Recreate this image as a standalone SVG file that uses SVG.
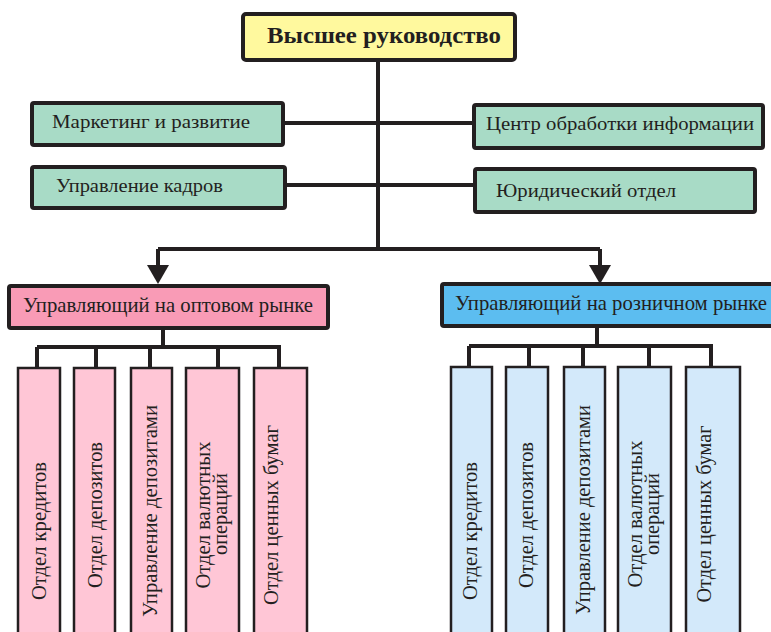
<svg xmlns="http://www.w3.org/2000/svg" width="771" height="632" viewBox="0 0 771 632">
<defs>
<style>
.box{stroke:#231F20;stroke-width:4}
.child{stroke:#231F20;stroke-width:2.5}
.top{fill:#FFF99E}
.green{fill:#A8DBC6}
.pinkm{fill:#F99BB6}
.bluem{fill:#5CBDF0}
.pinkc{fill:#FFC6D6}
.bluec{fill:#D3E9FA}
.ln{stroke:#231F20;stroke-width:4;fill:none}
text{fill:#231F20;font-family:Liberation Serif, DejaVu Serif, serif}
.h{font-size:19.5px}
.m{font-size:21px}
.v{font-size:21px;text-anchor:middle}
</style>
</defs>
<rect width="771" height="632" fill="#FFFFFF"/>
<g id="connectors">
<path class="ln" d="M378 60 V249"/>
<path class="ln" d="M283 123 H475"/>
<path class="ln" d="M285 185 H475"/>
<path class="ln" d="M158 249 H600"/>
<path class="ln" d="M158 249 V268"/>
<path class="ln" d="M600 249 V268"/>
<polygon points="147,265 169,265 158,284" fill="#231F20"/>
<polygon points="589,265 611,265 600,284" fill="#231F20"/>
<path class="ln" d="M163 328 V347 M37 347 H281 M37 347 V369 M96 347 V369 M150 347 V369 M218 347 V369 M279 347 V369"/>
<path class="ln" d="M597 326 V346 M469 346 H713 M469 346 V368 M529 346 V368 M583 346 V368 M649 346 V368 M711 346 V368"/>
</g>
<g id="top">
<rect class="box top" x="243" y="14" width="272" height="46" rx="3"/>
<text x="267" y="43" font-size="22.5" font-weight="bold" textLength="234" lengthAdjust="spacingAndGlyphs">Высшее руководство</text>
</g>
<g id="marketing">
<rect class="box green" x="32" y="103" width="251" height="42" rx="2"/>
<text class="h" x="52" y="128" textLength="198" lengthAdjust="spacingAndGlyphs">Маркетинг и развитие</text>
</g>
<g id="hr">
<rect class="box green" x="32" y="167" width="253" height="41" rx="2"/>
<text class="h" x="56" y="192" textLength="167" lengthAdjust="spacingAndGlyphs">Управление кадров</text>
</g>
<g id="datacenter">
<rect class="box green" x="474" y="105" width="289" height="43" rx="2"/>
<text class="h" x="486" y="130" textLength="268" lengthAdjust="spacingAndGlyphs">Центр обработки информации</text>
</g>
<g id="legal">
<rect class="box green" x="475" y="169" width="280" height="43" rx="2"/>
<text class="h" x="496" y="197" textLength="180" lengthAdjust="spacingAndGlyphs">Юридический отдел</text>
</g>
<g id="wholesale">
<rect class="box pinkm" x="9" y="286" width="319" height="42" rx="2"/>
<text class="m" x="23" y="312" textLength="290" lengthAdjust="spacingAndGlyphs">Управляющий на оптовом рынке</text>
</g>
<g id="retail">
<rect class="box bluem" x="442" y="284" width="335" height="42" rx="2"/>
<text class="m" x="455" y="310" textLength="312" lengthAdjust="spacingAndGlyphs">Управляющий на розничном рынке</text>
</g>
<g id="w-credit">
<rect class="child pinkc" x="18" y="368" width="42" height="280"/>
<text class="v" transform="translate(46,531) rotate(-90)" textLength="138" lengthAdjust="spacingAndGlyphs">Отдел кредитов</text>
</g>
<g id="w-deposit">
<rect class="child pinkc" x="74" y="368" width="41" height="280"/>
<text class="v" transform="translate(102,515) rotate(-90)" textLength="146" lengthAdjust="spacingAndGlyphs">Отдел депозитов</text>
</g>
<g id="w-depmgmt">
<rect class="child pinkc" x="131" y="368" width="41" height="280"/>
<text class="v" transform="translate(157,511) rotate(-90)" textLength="212" lengthAdjust="spacingAndGlyphs">Управление депозитами</text>
</g>
<g id="w-currency">
<rect class="child pinkc" x="186" y="368" width="53" height="280"/>
<text class="v" transform="translate(210,515) rotate(-90)" textLength="147" lengthAdjust="spacingAndGlyphs">Отдел валютных</text>
<text class="v" transform="translate(227,514) rotate(-90)" textLength="82" lengthAdjust="spacingAndGlyphs">операций</text>
</g>
<g id="w-securities">
<rect class="child pinkc" x="254" y="368" width="53" height="280"/>
<text class="v" transform="translate(278,515) rotate(-90)" textLength="180" lengthAdjust="spacingAndGlyphs">Отдел ценных бумаг</text>
</g>
<g id="r-credit">
<rect class="child bluec" x="451" y="367" width="41" height="280"/>
<text class="v" transform="translate(477,531) rotate(-90)" textLength="138" lengthAdjust="spacingAndGlyphs">Отдел кредитов</text>
</g>
<g id="r-deposit">
<rect class="child bluec" x="506" y="367" width="42" height="280"/>
<text class="v" transform="translate(533,515) rotate(-90)" textLength="146" lengthAdjust="spacingAndGlyphs">Отдел депозитов</text>
</g>
<g id="r-depmgmt">
<rect class="child bluec" x="564" y="367" width="41" height="280"/>
<text class="v" transform="translate(590,510) rotate(-90)" textLength="210" lengthAdjust="spacingAndGlyphs">Управление депозитами</text>
</g>
<g id="r-currency">
<rect class="child bluec" x="618" y="367" width="53" height="280"/>
<text class="v" transform="translate(642,514) rotate(-90)" textLength="147" lengthAdjust="spacingAndGlyphs">Отдел валютных</text>
<text class="v" transform="translate(659,514) rotate(-90)" textLength="82" lengthAdjust="spacingAndGlyphs">операций</text>
</g>
<g id="r-securities">
<rect class="child bluec" x="686" y="367" width="54" height="280"/>
<text class="v" transform="translate(711,514) rotate(-90)" textLength="177" lengthAdjust="spacingAndGlyphs">Отдел ценных бумаг</text>
</g>
</svg>
